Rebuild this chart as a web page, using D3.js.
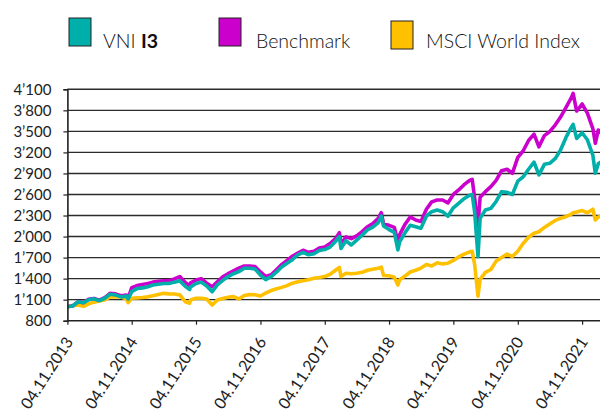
<!DOCTYPE html>
<html>
<head>
<meta charset="utf-8">
<script src="https://cdn.jsdelivr.net/npm/d3@7"></script>
<style>
  body { margin: 0; background: #fff; }
  svg { display: block; font-family: Lato, "Open Sans", sans-serif; }
</style>
</head>
<body>
<script>
// legend / series names
const seriesNames = ["VNI I3", "Benchmark", "MSCI World Index"];

// tick labels
const xTickDates = ["2013-11-04", "2014-11-04", "2015-11-04", "2016-11-04", "2017-11-04",
                    "2018-11-04", "2019-11-04", "2020-11-04", "2021-11-04"];
const yTickValues = [800, 1100, 1400, 1700, 2000, 2300, 2600, 2900, 3200, 3500, 3800, 4100];

// dates (monthly + a few turning points)
const dates = [
  "2013-11-04","2013-12-04","2014-01-04","2014-02-04","2014-03-04","2014-04-04","2014-05-04","2014-06-04",
  "2014-07-04","2014-08-04","2014-09-04","2014-10-04","2014-10-15","2014-11-04","2014-12-04","2015-01-04",
  "2015-02-04","2015-03-04","2015-04-04","2015-05-04","2015-06-04","2015-07-04","2015-08-04","2015-09-04",
  "2015-09-29","2015-10-04","2015-11-04","2015-12-04","2016-01-04","2016-02-04","2016-03-04","2016-04-04",
  "2016-05-04","2016-06-04","2016-07-04","2016-08-04","2016-09-04","2016-10-04","2016-11-04","2016-12-04",
  "2017-01-04","2017-02-04","2017-03-04","2017-04-04","2017-05-04","2017-06-04","2017-07-04","2017-08-04",
  "2017-09-04","2017-10-04","2017-11-04","2017-12-04","2018-01-04","2018-01-26","2018-02-04","2018-03-04",
  "2018-04-04","2018-05-04","2018-06-04","2018-07-04","2018-08-04","2018-09-04","2018-09-21","2018-10-04",
  "2018-11-04","2018-12-04","2018-12-24","2019-01-04","2019-02-04","2019-03-04","2019-04-04","2019-05-04",
  "2019-06-04","2019-07-04","2019-08-04","2019-09-04","2019-10-04","2019-11-04","2019-12-04","2020-01-04",
  "2020-02-04","2020-02-19","2020-03-04","2020-03-23","2020-04-04","2020-05-04","2020-06-04","2020-07-04",
  "2020-08-04","2020-09-04","2020-10-04","2020-11-04","2020-12-04","2021-01-04","2021-02-04","2021-03-04",
  "2021-04-04","2021-05-04","2021-06-04","2021-07-04","2021-08-04","2021-09-04","2021-09-14","2021-10-04",
  "2021-11-04","2021-12-04","2022-01-04","2022-01-18","2022-02-04","2022-03-04"
];

const vni = [
  1000,1010,1070,1055,1100,1112,1085,1120, 1178,1168,1140,1150,1110,1215,1258,1268,
  1285,1309,1320,1330,1330,1350,1368,1290, 1245,1280,1330,1350,1295,1214,1310,1375,
  1430,1470,1500,1547,1547,1537,1450,1385, 1430,1495,1565,1620,1670,1740,1775,1740,
  1755,1800,1815,1850,1930,2000,1830,1940, 1880,1950,2020,2093,2135,2200,2290,2150,
  2100,2060,1810,1930,2060,2160,2140,2120, 2290,2354,2378,2354,2290,2410,2474,2540,
  2590,2600,2350,1713,2260,2378,2402,2500, 2640,2630,2600,2790,2850,2960,3060,2880,
  3030,3044,3110,3230,3410,3560,3600,3400, 3480,3380,3160,2902,3040,3080
];

const benchmark = [
  1000,1012,1072,1058,1105,1118,1092,1130, 1190,1182,1155,1165,1125,1270,1300,1315,
  1330,1350,1362,1368,1370,1395,1430,1345, 1300,1340,1380,1400,1335,1285,1355,1425,
  1470,1510,1550,1580,1580,1572,1495,1430, 1455,1530,1600,1660,1720,1765,1805,1775,
  1790,1835,1850,1900,1970,2055,1890,1995, 1970,2010,2070,2140,2185,2260,2340,2180,
  2160,2130,1930,2030,2180,2280,2236,2215, 2390,2495,2521,2521,2480,2600,2664,2740,
  2800,2816,2550,2150,2560,2640,2711,2800, 2940,2960,2900,3130,3220,3370,3460,3280,
  3440,3496,3590,3700,3840,3980,4042,3790, 3890,3760,3540,3330,3520,3450
];

const msci = [
  1000,1012,1025,1005,1040,1065,1080,1095, 1140,1138,1140,1110,1057,1120,1125,1130,
  1140,1155,1175,1190,1182,1180,1168,1071, 1050,1095,1120,1120,1110,1024,1095,1115,
  1135,1143,1110,1160,1172,1170,1152,1195, 1230,1255,1275,1300,1335,1356,1370,1385,
  1405,1415,1430,1460,1520,1561,1430,1476, 1470,1476,1490,1520,1533,1547,1565,1445,
  1440,1420,1309,1385,1440,1495,1520,1550, 1600,1580,1625,1610,1620,1660,1710,1750,
  1780,1790,1600,1150,1390,1490,1530,1650, 1700,1750,1715,1790,1900,1990,2046,2069,
  2130,2180,2230,2260,2283,2320,2340,2350, 2370,2340,2390,2236,2280,2290
];

const colors = ["#00aeaa", "#cc00cc", "#ffc000"];

const W = 600, H = 414;
const parse = d3.timeParse("%Y-%m-%d");
const fmtDate = d3.timeFormat("%d.%m.%Y");
const fmtVal = v => d3.format(",")(v).replace(",", "\u2019");

const svg = d3.select("body").append("svg")
  .attr("width", W).attr("height", H);

// one year = ~64.3px, axis starts at x=67.4
const x = d3.scaleTime()
  .domain([parse("2013-11-04"), parse("2021-11-04")])
  .range([67.4, 582.1]);
const y = d3.scaleLinear()
  .domain([800, 4100])
  .range([320.7, 89.3]);

// gridlines
svg.append("g").selectAll("line")
  .data(yTickValues.filter(v => v > 800))
  .enter().append("line")
    .attr("x1", x.range()[0]).attr("x2", W)
    .attr("y1", d => y(d)).attr("y2", d => y(d))
    .attr("stroke", "#2b2b2b")
    .attr("stroke-width", 1.4);

// series, teal drawn last (on top)
const line = d3.line()
  .x((d, i) => x(parse(dates[i])))
  .y(d => y(d));

[msci, benchmark, vni].forEach((vals, j) => {
  svg.append("path")
    .datum(vals)
    .attr("fill", "none")
    .attr("stroke", colors[2 - j])
    .attr("stroke-width", 3.6)
    .attr("stroke-linejoin", "round")
    .attr("d", line);
});

// y axis
const yAxis = svg.append("g")
  .attr("transform", `translate(${x.range()[0]},0)`)
  .call(d3.axisLeft(y).tickValues(yTickValues).tickSize(4).tickPadding(12).tickFormat(fmtVal));
yAxis.select(".domain").attr("stroke", "#222").attr("stroke-width", 1.6);
yAxis.selectAll(".tick line").attr("stroke", "#222").attr("stroke-width", 1.2);
yAxis.selectAll("text")
  .style("font-size", "15px")
  .style("font-family", "Lato, sans-serif")
  .attr("fill", "#222");

// x axis
const xAxis = svg.append("g")
  .attr("transform", `translate(0,${y(800)})`)
  .call(d3.axisBottom(x).tickValues(xTickDates.map(parse)).tickSize(4).tickFormat(fmtDate));
xAxis.select(".domain").attr("d", `M${x.range()[0]},0H${W}`).attr("stroke", "#222").attr("stroke-width", 1.6);
xAxis.selectAll(".tick line").attr("stroke", "#222").attr("stroke-width", 1.2);
xAxis.selectAll("text")
  .style("font-size", "16px")
  .style("font-family", "Lato, sans-serif")
  .attr("fill", "#222")
  .attr("text-anchor", "end")
  .attr("dy", null)
  .attr("y", null)
  .attr("transform", "translate(6,21) rotate(-57)");

// legend
const legendX = [69, 219, 391];
const legendY = [18, 18, 21];
const textX = [103, 256, 426];
const lg = svg.append("g");
seriesNames.forEach((name, i) => {
  lg.append("rect")
    .attr("x", legendX[i]).attr("y", legendY[i])
    .attr("width", 22).attr("height", 28)
    .attr("fill", colors[i])
    .attr("stroke", "#222").attr("stroke-width", 1);
  const t = lg.append("text")
    .attr("x", textX[i]).attr("y", 47.5)
    .style("font-size", "19.5px")
    .style("font-weight", 300)
    .attr("fill", "#111");
  if (i === 0) {
    t.append("tspan").text("VNI ");
    t.append("tspan").style("font-weight", "bold").text("I3");
  } else {
    t.text(name);
  }
});
</script>
</body>
</html>
